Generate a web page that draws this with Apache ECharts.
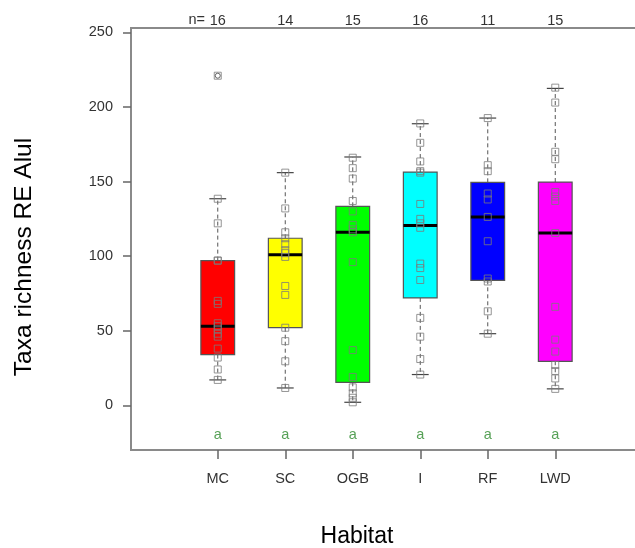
<!DOCTYPE html>
<html>
<head>
<meta charset="utf-8">
<script src="https://cdn.jsdelivr.net/npm/echarts@6/dist/echarts.min.js"></script>
<style>html,body{margin:0;padding:0;background:#fff;}#c{width:635px;height:548px;}</style>
</head>
<body>
<div id="c"></div>
<script>
const categories = ['MC', 'SC', 'OGB', 'I', 'RF', 'LWD'];
const nPrefix = 'n=';
const nCounts = ['16', '14', '15', '16', '11', '15'];
const groupLetters = ['a', 'a', 'a', 'a', 'a', 'a'];
const yTicks = [0, 50, 100, 150, 200, 250];

const whiskerLow = [17, 11.6, 2, 20.6, 48, 11];
const q1 = [34, 52, 15.4, 72, 83.8, 29.5];
const median = [53, 101, 116, 120.6, 126.3, 115.5];
const q3 = [97, 112, 133.4, 156.4, 149.5, 149.7];
const whiskerHigh = [138.5, 156, 166.5, 188.8, 192.6, 212.5];
const outlierCats = ['MC'];
const outlierValues = [221];

const pointsMC = [221, 138.5, 122, 97, 97, 70, 68, 55, 53, 51, 48, 46, 38, 32, 24, 17];
const pointsSC = [156, 132, 116, 112, 108, 104, 102, 99.5, 80, 74, 52, 43, 29.5, 11.6];
const pointsOGB = [166, 159, 152, 137, 130, 121, 118, 116, 96, 37, 19, 12, 8, 5, 2];
const pointsI = [189, 176, 163.5, 157, 156, 135, 125, 122, 119, 95, 92, 84, 58.6, 46, 31, 20.6];
const pointsRF = [192.6, 161, 157, 142, 138, 126.3, 110, 85, 83, 63, 48];
const pointsLWD = [213, 203, 170, 165, 143, 140, 137, 115.5, 66, 44, 36, 27, 23, 18, 11];

const boxColors = ['#FF0000', '#FFFF00', '#00FF00', '#00FFFF', '#0000FF', '#FF00FF'];

const allPoints = [pointsMC, pointsSC, pointsOGB, pointsI, pointsRF, pointsLWD];
const pointData = [];
allPoints.forEach((arr, i) => arr.forEach(v => pointData.push([categories[i], v])));
const boxData = categories.map((c, i) => [i, whiskerLow[i], q1[i], median[i], q3[i], whiskerHigh[i]]);

const chart = echarts.init(document.getElementById('c'), null, {renderer: 'canvas'});
const fontFam = 'Liberation Sans, Arial, sans-serif';
const option = {
  animation: false,
  backgroundColor: '#fff',
  grid: [
    {left: 131, width: 520, top: 28, bottom: 98, show: true, borderColor: '#8a8a8a', borderWidth: 2, backgroundColor: 'transparent', containLabel: false, outerBoundsMode: 'none'},
    {left: 184, right: 46, top: 28, bottom: 98, outerBoundsMode: 'none'}
  ],
  xAxis: [
    {gridIndex: 0, type: 'value', min: 0, max: 1, show: false},
    {gridIndex: 1, type: 'category', data: categories, position: 'bottom',
      axisLine: {show: false, onZero: false},
      axisTick: {show: true, alignWithLabel: true, length: 9, lineStyle: {color: '#666', width: 1.5}},
      axisLabel: {margin: 21, fontSize: 14.5, color: '#333', fontFamily: fontFam},
      splitLine: {show: false}},
    {gridIndex: 1, type: 'category', data: nCounts, position: 'top',
      axisLine: {show: false, onZero: false}, axisTick: {show: false},
      axisLabel: {margin: 0, fontSize: 14.5, color: '#333', fontFamily: fontFam},
      splitLine: {show: false}}
  ],
  yAxis: [
    {gridIndex: 0, type: 'value', min: -30, max: 253,
      axisLine: {show: false},
      axisTick: {show: true, customValues: yTicks, length: 8, lineStyle: {color: '#666', width: 1.5}},
      axisLabel: {customValues: yTicks, margin: 18, fontSize: 14.5, color: '#333', fontFamily: fontFam},
      splitLine: {show: false}},
    {gridIndex: 1, type: 'value', min: -30, max: 253, show: false, splitLine: {show: false}}
  ],
  graphic: [
    {type: 'text', x: 24, y: 257, rotation: Math.PI / 2,
      style: {text: 'Taxa richness RE Alul', align: 'center', verticalAlign: 'middle', fill: '#000', font: '24.5px Liberation Sans, Arial, sans-serif'}},
    {type: 'text', x: 357, y: 537,
      style: {text: 'Habitat', align: 'center', verticalAlign: 'middle', fill: '#000', font: '23px Liberation Sans, Arial, sans-serif'}},
    {type: 'text', x: 205, y: 20,
      style: {text: nPrefix, align: 'right', verticalAlign: 'middle', fill: '#333', font: '14.5px Liberation Sans, Arial, sans-serif'}}
  ],
  series: [
    {
      type: 'custom', xAxisIndex: 1, yAxisIndex: 1,
      data: boxData,
      encode: {x: 0, y: [1, 2, 3, 4, 5]},
      renderItem: function (params, api) {
        const x = api.value(0);
        const lo = api.coord([x, api.value(1)]);
        const b1 = api.coord([x, api.value(2)]);
        const md = api.coord([x, api.value(3)]);
        const b3 = api.coord([x, api.value(4)]);
        const hi = api.coord([x, api.value(5)]);
        const band = api.size([1, 0])[0];
        const bw = band * 0.5;
        const cw = bw * 0.5;
        const cx = lo[0];
        const wStyle = {stroke: '#555', lineWidth: 1, lineDash: [4, 3]};
        const cStyle = {stroke: '#444', lineWidth: 1.2};
        return {type: 'group', children: [
          {type: 'line', shape: {x1: cx, y1: b3[1], x2: cx, y2: hi[1]}, style: wStyle},
          {type: 'line', shape: {x1: cx, y1: b1[1], x2: cx, y2: lo[1]}, style: wStyle},
          {type: 'line', shape: {x1: cx - cw / 2, y1: hi[1], x2: cx + cw / 2, y2: hi[1]}, style: cStyle},
          {type: 'line', shape: {x1: cx - cw / 2, y1: lo[1], x2: cx + cw / 2, y2: lo[1]}, style: cStyle},
          {type: 'rect', shape: {x: cx - bw / 2, y: b3[1], width: bw, height: b1[1] - b3[1]},
            style: {fill: boxColors[params.dataIndex], stroke: '#555', lineWidth: 1.2}},
          {type: 'line', shape: {x1: cx - bw / 2, y1: md[1], x2: cx + bw / 2, y2: md[1]}, style: {stroke: '#000', lineWidth: 3}}
        ]};
      },
      z: 2
    },
    {
      type: 'scatter', xAxisIndex: 1, yAxisIndex: 1,
      data: pointData,
      symbol: 'rect', symbolSize: 7,
      itemStyle: {color: 'rgba(0,0,0,0)', borderColor: '#7a7a7a', borderWidth: 1},
      z: 3
    },
    {
      type: 'scatter', xAxisIndex: 1, yAxisIndex: 1,
      data: outlierCats.map((c, i) => [c, outlierValues[i]]),
      symbol: 'circle', symbolSize: 5,
      itemStyle: {color: 'rgba(0,0,0,0)', borderColor: '#444', borderWidth: 1},
      z: 4
    },
    {
      type: 'scatter', xAxisIndex: 1, yAxisIndex: 1,
      data: categories.map(c => [c, -20]),
      symbolSize: 1,
      itemStyle: {color: 'rgba(0,0,0,0)'},
      label: {show: true, position: 'inside', formatter: p => groupLetters[p.dataIndex],
        color: '#2d8a2d', fontSize: 14.5, fontFamily: fontFam},
      z: 4
    }
  ]
};
chart.setOption(option);
</script>
</body>
</html>
